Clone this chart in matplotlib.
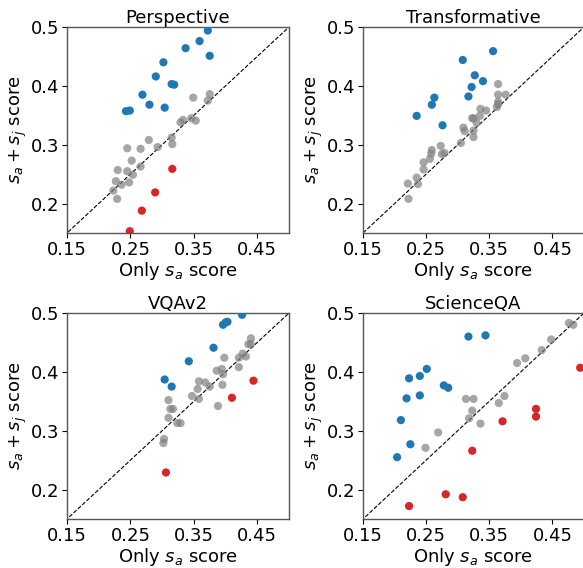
import numpy as np
import matplotlib
matplotlib.use('Agg')
import matplotlib.pyplot as plt

# data: (only s_a score, s_a + s_j score)
titles = ['Perspective', 'Transformative', 'VQAv2', 'ScienceQA']

persp_blue_x = [0.372, 0.359, 0.337, 0.375, 0.302, 0.290, 0.315, 0.319, 0.269, 0.280, 0.304, 0.243, 0.249]
persp_blue_y = [0.494, 0.476, 0.464, 0.451, 0.440, 0.416, 0.403, 0.402, 0.385, 0.368, 0.363, 0.357, 0.358]
persp_red_x = [0.316, 0.289, 0.268, 0.249]
persp_red_y = [0.259, 0.219, 0.188, 0.153]
persp_gray_x = [0.375, 0.349, 0.372, 0.329, 0.333, 0.346, 0.353, 0.279, 0.315, 0.316, 0.293, 0.245,
                0.266, 0.252, 0.266, 0.230, 0.245, 0.254, 0.227, 0.236, 0.248, 0.223, 0.229]
persp_gray_y = [0.386, 0.380, 0.375, 0.338, 0.342, 0.345, 0.341, 0.308, 0.312, 0.301, 0.296, 0.294,
                0.293, 0.273, 0.263, 0.257, 0.255, 0.249, 0.238, 0.232, 0.236, 0.222, 0.208]

trans_blue_x = [0.356, 0.308, 0.327, 0.340, 0.322, 0.317, 0.263, 0.259, 0.235, 0.276]
trans_blue_y = [0.459, 0.444, 0.418, 0.408, 0.398, 0.382, 0.380, 0.368, 0.349, 0.333]
trans_red_x = []
trans_red_y = []
trans_gray_x = [0.364, 0.364, 0.376, 0.364, 0.364, 0.362, 0.336, 0.345, 0.335, 0.323, 0.325, 0.330,
                0.309, 0.311, 0.325, 0.325, 0.305, 0.273, 0.259, 0.258, 0.256, 0.275, 0.279, 0.246,
                0.246, 0.235, 0.221, 0.237, 0.222]
trans_gray_y = [0.403, 0.385, 0.385, 0.373, 0.369, 0.364, 0.361, 0.358, 0.349, 0.345, 0.345, 0.337,
                0.329, 0.323, 0.324, 0.313, 0.303, 0.298, 0.291, 0.285, 0.276, 0.284, 0.286, 0.270,
                0.258, 0.244, 0.234, 0.233, 0.208]

vqa_blue_x = [0.426, 0.403, 0.396, 0.400, 0.381, 0.342, 0.304, 0.315]
vqa_blue_y = [0.497, 0.485, 0.480, 0.484, 0.441, 0.418, 0.387, 0.375]
vqa_red_x = [0.444, 0.410, 0.306]
vqa_red_y = [0.385, 0.356, 0.229]
vqa_gray_x = [0.440, 0.436, 0.440, 0.427, 0.421, 0.432, 0.398, 0.386, 0.394, 0.396, 0.421, 0.358,
              0.368, 0.375, 0.395, 0.356, 0.347, 0.358, 0.388, 0.310, 0.313, 0.317, 0.310, 0.324,
              0.329, 0.303, 0.302]
vqa_gray_y = [0.457, 0.447, 0.447, 0.431, 0.424, 0.426, 0.424, 0.402, 0.405, 0.396, 0.408, 0.384,
              0.382, 0.375, 0.378, 0.371, 0.359, 0.354, 0.342, 0.352, 0.337, 0.337, 0.322, 0.313,
              0.313, 0.286, 0.279]

sqa_blue_x = [0.361, 0.317, 0.344, 0.251, 0.240, 0.223, 0.278, 0.285, 0.219, 0.240, 0.210, 0.225, 0.204]
sqa_blue_y = [0.507, 0.460, 0.462, 0.405, 0.393, 0.389, 0.377, 0.373, 0.355, 0.360, 0.318, 0.277, 0.255]
sqa_red_x = [0.494, 0.424, 0.424, 0.371, 0.323, 0.281, 0.308, 0.223]
sqa_red_y = [0.407, 0.337, 0.324, 0.316, 0.266, 0.192, 0.187, 0.172]
sqa_gray_x = [0.476, 0.483, 0.448, 0.433, 0.407, 0.394, 0.374, 0.365, 0.313, 0.325, 0.323, 0.318,
              0.336, 0.269, 0.249]
sqa_gray_y = [0.483, 0.480, 0.455, 0.437, 0.423, 0.415, 0.359, 0.347, 0.354, 0.354, 0.334, 0.321,
              0.312, 0.297, 0.271]

panels = [
    (persp_blue_x, persp_blue_y, persp_red_x, persp_red_y, persp_gray_x, persp_gray_y),
    (trans_blue_x, trans_blue_y, trans_red_x, trans_red_y, trans_gray_x, trans_gray_y),
    (vqa_blue_x, vqa_blue_y, vqa_red_x, vqa_red_y, vqa_gray_x, vqa_gray_y),
    (sqa_blue_x, sqa_blue_y, sqa_red_x, sqa_red_y, sqa_gray_x, sqa_gray_y),
]

xticks = [0.15, 0.25, 0.35, 0.45]
yticks = [0.2, 0.3, 0.4, 0.5]

fig = plt.figure(figsize=(5.83, 5.68), dpi=100)
W, H = 583, 568
# axes boxes in pixels: left, top, right, bottom
boxes = [(67, 27, 289, 233), (363, 27, 584, 233), (67, 313, 289, 519), (363, 313, 584, 519)]

fs = 13
for i, (box, data, title) in enumerate(zip(boxes, panels, titles)):
    l, t, r, b = box
    ax = fig.add_axes([l / W, (H - b) / H, (r - l) / W, (b - t) / H])
    bx, by, rx, ry, gx, gy = data
    ax.plot([0, 1], [0, 1], 'k--', lw=0.8, zorder=1)
    ax.scatter(gx, gy, s=35, color='gray', alpha=0.7, edgecolors='none', zorder=2)
    ax.scatter(bx, by, s=35, color='tab:blue', edgecolors='none', zorder=3)
    if len(rx):
        ax.scatter(rx, ry, s=35, color='tab:red', edgecolors='none', zorder=3)
    ax.set_xlim(0.15, 0.5)
    ax.set_ylim(0.15, 0.5)
    ax.set_xticks(xticks)
    ax.set_yticks(yticks)
    ax.set_xticklabels(['0.15', '0.25', '0.35', '0.45'])
    ax.set_yticklabels(['0.2', '0.3', '0.4', '0.5'])
    ax.tick_params(labelsize=fs, pad=2)
    for sp in ax.spines.values():
        sp.set_color('#555555')
        sp.set_linewidth(1.0)
    ax.set_title(title, fontsize=fs, pad=3)
    ax.set_xlabel('Only $s_a$ score', fontsize=fs, labelpad=1)
    ax.set_ylabel('$s_a + s_j$ score', fontsize=fs, labelpad=1)

fig.savefig('out.png', dpi=100)
